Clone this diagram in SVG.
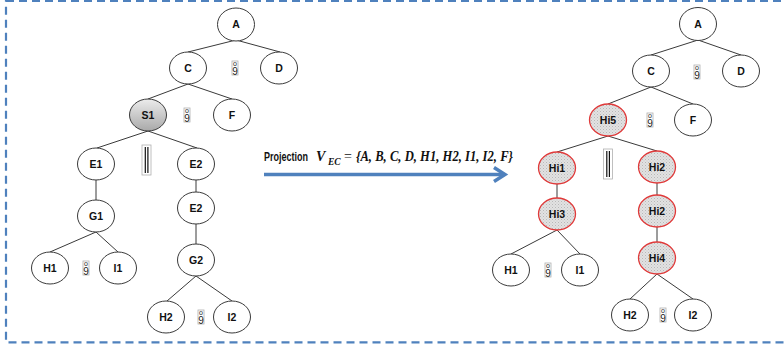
<svg xmlns="http://www.w3.org/2000/svg" width="784" height="347" viewBox="0 0 784 347">
<defs>
<linearGradient id="gS" x1="0" y1="0" x2="0" y2="1">
<stop offset="0" stop-color="#ececec"/>
<stop offset="1" stop-color="#a9a9a9"/>
</linearGradient>
<pattern id="dots" width="3" height="3" patternUnits="userSpaceOnUse">
<rect width="3" height="3" fill="#e2e2e2"/>
<rect x="0" y="0" width="1" height="1" fill="#b8b8b8"/>
<rect x="1.5" y="1.5" width="1" height="1" fill="#c8c8c8"/>
</pattern>
</defs>
<style>
.n ellipse{fill:#fff;stroke:#3a3a3a;stroke-width:1}
.n.s ellipse{fill:url(#gS)}
.n.h ellipse{fill:url(#dots);stroke:#e03a3a;stroke-width:1.3}
.n text{font-family:"Liberation Sans",Arial,sans-serif;font-weight:bold;font-size:10.5px;fill:#111;text-anchor:middle}
.e line{stroke:#3a3a3a;stroke-width:1}
.sym rect{fill:#fff;stroke:#b0b0b0;stroke-width:0.8}
.sym text{font-family:"Liberation Sans",Arial,sans-serif;fill:#222;text-anchor:middle}
.par rect{fill:#fff;stroke:#b0b0b0;stroke-width:0.8}
.par line{stroke:#111;stroke-width:1.2}
.m{font-family:"Liberation Serif","Times New Roman",serif;font-weight:bold;font-style:italic;fill:#111}
</style>
<rect x="6" y="0.8" width="790" height="341.5" fill="none" stroke="#4F81BD" stroke-width="2.2" stroke-dasharray="8,5"/>

<g id="connectors" class="e">
<line x1="236" y1="40" x2="188" y2="52"/>
<line x1="236" y1="40" x2="280" y2="52"/>
<line x1="188" y1="84" x2="148" y2="99"/>
<line x1="188" y1="84" x2="232" y2="99"/>
<line x1="148" y1="131" x2="97" y2="148"/>
<line x1="148" y1="131" x2="197" y2="148"/>
<line x1="96" y1="180" x2="96" y2="200"/>
<line x1="196" y1="180" x2="196" y2="192"/>
<line x1="96" y1="232" x2="50" y2="252"/>
<line x1="96" y1="232" x2="118" y2="252"/>
<line x1="196" y1="224" x2="196" y2="244"/>
<line x1="196" y1="276" x2="167" y2="301"/>
<line x1="196" y1="276" x2="232" y2="301"/>
<line x1="698" y1="40" x2="651" y2="55"/>
<line x1="698" y1="40" x2="741" y2="55"/>
<line x1="651" y1="87" x2="608" y2="104"/>
<line x1="651" y1="87" x2="693" y2="104"/>
<line x1="608" y1="136" x2="557" y2="152"/>
<line x1="608" y1="136" x2="657" y2="151"/>
<line x1="557" y1="184" x2="557" y2="198"/>
<line x1="657" y1="183" x2="657" y2="195"/>
<line x1="557" y1="230" x2="511" y2="254"/>
<line x1="557" y1="230" x2="580" y2="254"/>
<line x1="657" y1="227" x2="657" y2="242"/>
<line x1="657" y1="274" x2="630" y2="299"/>
<line x1="657" y1="274" x2="693" y2="299"/>
</g>

<g id="projection-arrow">
<line x1="264" y1="174.5" x2="504" y2="174.5" stroke="#4F81BD" stroke-width="3.5"/>
<polyline points="494,167.5 505,174.5 494,181.5" fill="none" stroke="#4F81BD" stroke-width="3.5" stroke-linejoin="miter"/>
<text transform="translate(264 161) scale(0.72 1)" x="0" y="0" font-family="Liberation Sans,Arial,sans-serif" font-weight="bold" font-size="12.5" fill="#111">Projection</text>
<text class="m" x="316" y="161" font-size="14">V</text>
<text class="m" x="328" y="165" font-size="9.5">EC</text>
<text x="344" y="161" font-family="Liberation Serif,'Times New Roman',serif" font-size="14" fill="#111">=</text>
<text class="m" x="356" y="161" font-size="14" textLength="157" lengthAdjust="spacingAndGlyphs">{A, B, C, D, H1, H2, I1, I2, F}</text>
</g>

<g id="L-A" class="n"><ellipse cx="236" cy="24.5" rx="18.5" ry="16.5"/><text x="236" y="28">A</text></g>
<g id="L-C" class="n"><ellipse cx="188" cy="68" rx="18.5" ry="16"/><text x="188" y="71.5">C</text></g>
<g id="L-D" class="n"><ellipse cx="279" cy="68" rx="18.5" ry="16"/><text x="279" y="71.5">D</text></g>
<g id="L-S1" class="n s"><ellipse cx="148" cy="115" rx="18.5" ry="16"/><text x="148" y="118.5">S1</text></g>
<g id="L-F" class="n"><ellipse cx="232" cy="115" rx="18.5" ry="16"/><text x="232" y="118.5">F</text></g>
<g id="L-E1" class="n"><ellipse cx="96" cy="164" rx="18.5" ry="16"/><text x="96" y="167.5">E1</text></g>
<g id="L-E2a" class="n"><ellipse cx="196" cy="164" rx="18.5" ry="16"/><text x="196" y="167.5">E2</text></g>
<g id="L-G1" class="n"><ellipse cx="96" cy="216" rx="18.5" ry="16"/><text x="96" y="219.5">G1</text></g>
<g id="L-E2b" class="n"><ellipse cx="196" cy="208" rx="18.5" ry="16"/><text x="196" y="211.5">E2</text></g>
<g id="L-H1" class="n"><ellipse cx="50" cy="268" rx="18.5" ry="16"/><text x="50" y="271.5">H1</text></g>
<g id="L-I1" class="n"><ellipse cx="118" cy="268" rx="18.5" ry="16"/><text x="118" y="271.5">I1</text></g>
<g id="L-G2" class="n"><ellipse cx="196" cy="260" rx="18.5" ry="16"/><text x="196" y="263.5">G2</text></g>
<g id="L-H2" class="n"><ellipse cx="166" cy="317" rx="18.5" ry="16"/><text x="166" y="320.5">H2</text></g>
<g id="L-I2" class="n"><ellipse cx="232" cy="317" rx="18.5" ry="16"/><text x="232" y="320.5">I2</text></g>

<g id="R-A" class="n"><ellipse cx="698" cy="24" rx="18.5" ry="16.5"/><text x="698" y="27.5">A</text></g>
<g id="R-C" class="n"><ellipse cx="651" cy="71" rx="18.5" ry="16"/><text x="651" y="74.5">C</text></g>
<g id="R-D" class="n"><ellipse cx="741" cy="71" rx="18.5" ry="16"/><text x="741" y="74.5">D</text></g>
<g id="R-Hi5" class="n h"><ellipse cx="608" cy="120" rx="18.5" ry="16"/><text x="608" y="123.5">Hi5</text></g>
<g id="R-F" class="n"><ellipse cx="693" cy="120" rx="18.5" ry="16"/><text x="693" y="123.5">F</text></g>
<g id="R-Hi1" class="n h"><ellipse cx="557" cy="168" rx="18.5" ry="16"/><text x="557" y="171.5">Hi1</text></g>
<g id="R-Hi2a" class="n h"><ellipse cx="657" cy="167" rx="18.5" ry="16"/><text x="657" y="170.5">Hi2</text></g>
<g id="R-Hi3" class="n h"><ellipse cx="557" cy="214" rx="18.5" ry="16"/><text x="557" y="217.5">Hi3</text></g>
<g id="R-Hi2b" class="n h"><ellipse cx="657" cy="211" rx="18.5" ry="16"/><text x="657" y="214.5">Hi2</text></g>
<g id="R-Hi4" class="n h"><ellipse cx="657" cy="258" rx="18.5" ry="16"/><text x="657" y="261.5">Hi4</text></g>
<g id="R-H1" class="n"><ellipse cx="511" cy="270" rx="18.5" ry="16"/><text x="511" y="273.5">H1</text></g>
<g id="R-I1" class="n"><ellipse cx="580" cy="270" rx="18.5" ry="16"/><text x="580" y="273.5">I1</text></g>
<g id="R-H2" class="n"><ellipse cx="630" cy="315" rx="18.5" ry="16"/><text x="630" y="318.5">H2</text></g>
<g id="R-I2" class="n"><ellipse cx="693" cy="315" rx="18.5" ry="16"/><text x="693" y="318.5">I2</text></g>

<g id="symbols">
<g class="sym"><rect x="232" y="61" width="6" height="14"/><text x="235" y="66" font-size="7">o</text><text x="235" y="74.5" font-size="10">9</text></g>
<g class="sym"><rect x="184" y="108" width="6" height="14"/><text x="187" y="113" font-size="7">o</text><text x="187" y="121.5" font-size="10">9</text></g>
<g class="sym"><rect x="83" y="261" width="6" height="14"/><text x="86" y="266" font-size="7">o</text><text x="86" y="274.5" font-size="10">9</text></g>
<g class="sym"><rect x="198" y="310" width="6" height="14"/><text x="201" y="315" font-size="7">o</text><text x="201" y="323.5" font-size="10">9</text></g>
<g class="sym"><rect x="694" y="65" width="6" height="14"/><text x="697" y="70" font-size="7">o</text><text x="697" y="78.5" font-size="10">9</text></g>
<g class="sym"><rect x="647" y="113" width="6" height="14"/><text x="650" y="118" font-size="7">o</text><text x="650" y="126.5" font-size="10">9</text></g>
<g class="sym"><rect x="545" y="263" width="6" height="14"/><text x="548" y="268" font-size="7">o</text><text x="548" y="276.5" font-size="10">9</text></g>
<g class="sym"><rect x="660" y="308" width="6" height="14"/><text x="663" y="313" font-size="7">o</text><text x="663" y="321.5" font-size="10">9</text></g>
<g class="par"><rect x="142" y="145" width="9" height="30"/><line x1="145.3" y1="147" x2="145.3" y2="173"/><line x1="147.9" y1="147" x2="147.9" y2="173"/></g>
<g class="par"><rect x="603.5" y="149" width="9" height="30"/><line x1="606.8" y1="151" x2="606.8" y2="177"/><line x1="609.4" y1="151" x2="609.4" y2="177"/></g>
</g>
</svg>
